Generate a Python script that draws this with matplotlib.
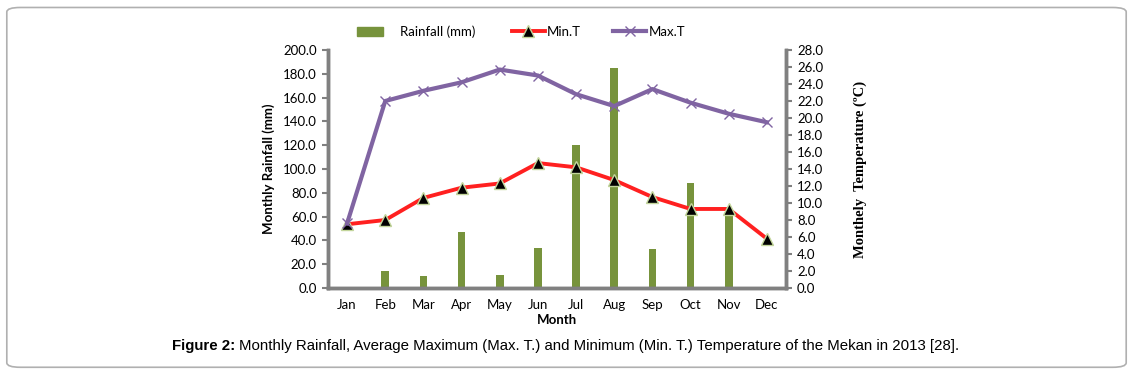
import numpy as np
import matplotlib
matplotlib.use("Agg")
import matplotlib.pyplot as plt
from matplotlib.patches import FancyBboxPatch, Patch

months = ['Jan', 'Feb', 'Mar', 'Apr', 'May', 'Jun', 'Jul', 'Aug', 'Sep', 'Oct', 'Nov', 'Dec']
rainfall = [0.0, 14.5, 10.0, 47.0, 11.0, 33.5, 120.5, 185.0, 33.0, 88.5, 65.0, 0.0]
min_t = [7.5, 8.0, 10.6, 11.8, 12.3, 14.7, 14.2, 12.7, 10.7, 9.3, 9.3, 5.8]
max_t = [7.6, 22.0, 23.2, 24.2, 25.7, 25.0, 22.8, 21.4, 23.4, 21.8, 20.5, 19.5]

rain_ticks = np.arange(0, 201, 20)
temp_ticks = np.arange(0, 28.1, 2)

plt.rcParams['font.family'] = ['Lato', 'DejaVu Sans']

fig = plt.figure(figsize=(11.33, 3.74), dpi=100)

# rounded frame round the figure
frame = FancyBboxPatch((0.006, 0.018), 0.988, 0.962, boxstyle="round,pad=0,rounding_size=0.012",
                       transform=fig.transFigure, fill=False, edgecolor='#b0b0b0', lw=1.2)
fig.patches.append(frame)

ax = fig.add_axes([0.2895, 0.2299, 0.4042, 0.6364])
x = np.arange(len(months))
bars = ax.bar(x, rainfall, width=0.2, color='#77933C', zorder=2)
ax.set_xlim(-0.5, 11.5)
ax.set_ylim(0, 200)
ax.set_yticks(rain_ticks)
ax.set_yticklabels(['%.1f' % v for v in rain_ticks], fontsize=9.5)
ax.set_xticks(x)
ax.set_xticklabels(months, fontsize=9.5)
ax.tick_params(axis='x', length=0, pad=8)
ax.tick_params(axis='y', length=4, width=1.5, color='#808080', pad=4)
ax.set_xlabel('Month', fontsize=9.5, fontweight='bold', labelpad=2)
ax.set_ylabel('Monthly Rainfall (mm)', fontsize=9.5, fontweight='bold', labelpad=6)

ax2 = ax.twinx()
l1, = ax2.plot(x, min_t, color='#FF2020', lw=2.8, marker='^', markersize=8,
               markerfacecolor='black', markeredgecolor='#C3D69B', markeredgewidth=1, zorder=3)
l2, = ax2.plot(x, max_t, color='#8064A2', lw=3, marker='x', markersize=7,
               markeredgecolor='#8064A2', markeredgewidth=1, zorder=3)
ax2.set_ylim(0, 28)
ax2.set_yticks(temp_ticks)
ax2.set_yticklabels(['%.1f' % v for v in temp_ticks], fontsize=9.5)
ax2.tick_params(axis='y', length=4, width=1.5, color='#808080', pad=4)
ax2.set_ylabel('Monthely  Temperature (ºC)', fontsize=10.5, fontweight='bold',
               family='Liberation Serif', labelpad=22)

for a in (ax, ax2):
    a.spines['top'].set_visible(False)
    for s in ('left', 'right', 'bottom'):
        a.spines[s].set_color('#808080')
        a.spines[s].set_linewidth(2.5)

# legend, three entries placed one by one
fig.legend([Patch(color='#77933C')], ['Rainfall (mm)'], loc='center left',
           bbox_to_anchor=(0.305, 0.915), frameon=False, fontsize=9.5,
           handlelength=1.9, handleheight=0.6, handletextpad=1.3)
fig.legend([l1], ['Min.T'], loc='center left', bbox_to_anchor=(0.441, 0.915),
           frameon=False, fontsize=9.5, handlelength=2.5, handletextpad=0.2)
fig.legend([l2], ['Max.T'], loc='center left', bbox_to_anchor=(0.531, 0.915),
           frameon=False, fontsize=9.5, handlelength=2.5, handletextpad=0.2)

# caption: bold lead then normal text
t1 = fig.text(0.152, 0.075, 'Figure 2:', ha='left', va='center', fontsize=10.8,
              fontweight='bold', family='Liberation Sans')
fig.canvas.draw()
bb = t1.get_window_extent()
x_next = bb.x1 / fig.bbox.width + 0.003
fig.text(x_next, 0.075, 'Monthly Rainfall, Average Maximum (Max. T.) and Minimum (Min. T.) Temperature of the Mekan in 2013 [28].',
         ha='left', va='center', fontsize=10.8, family='Liberation Sans')

fig.savefig('out.png', dpi=100)
